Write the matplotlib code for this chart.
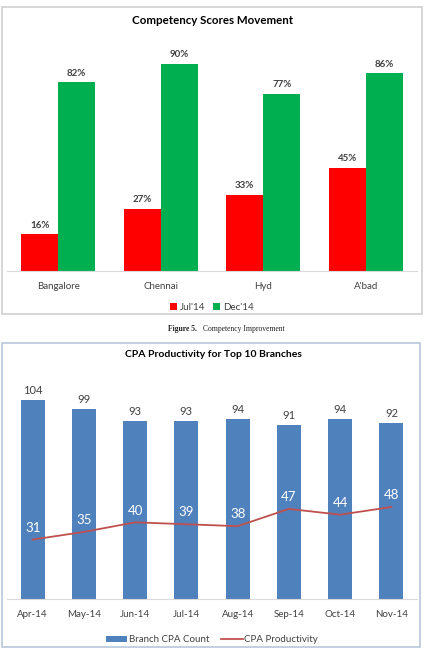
import matplotlib
matplotlib.use("Agg")
import matplotlib.pyplot as plt
from matplotlib.patches import Rectangle
import numpy as np

plt.rcParams["font.family"] = ["Lato", "DejaVu Sans"]

# top chart data
cities = ["Bangalore", "Chennai", "Hyd", "A'bad"]
jul14 = [16, 27, 33, 45]
dec14 = [82, 90, 77, 86]

# bottom chart data
months = ["Apr-14", "May-14", "Jun-14", "Jul-14", "Aug-14", "Sep-14", "Oct-14", "Nov-14"]
cpa_count = [104, 99, 93, 93, 94, 91, 94, 92]
cpa_prod = [31, 35, 40, 39, 38, 47, 44, 48]

W, H = 426, 650
fig = plt.figure(figsize=(W / 100, H / 100), dpi=100)
fig.patch.set_facecolor("white")


def px_axes(x0, y0, x1, y1):
    # pixel box (top-left origin) -> figure axes
    return fig.add_axes([x0 / W, 1 - y1 / H, (x1 - x0) / W, (y1 - y0) / H])


def px_box(x0, y0, x1, y1, color):
    fig.patches.append(Rectangle((x0 / W, 1 - y1 / H), (x1 - x0) / W, (y1 - y0) / H,
                                 transform=fig.transFigure, fill=False,
                                 edgecolor=color, linewidth=1.2))


def clean(ax):
    for s in ["top", "right", "left"]:
        ax.spines[s].set_visible(False)
    ax.spines["bottom"].set_color("#D9D9D9")
    ax.set_yticks([])
    ax.tick_params(axis="x", length=0, pad=8, colors="#404040")


# ---- chart 1 ----
px_box(2, 7, 422, 314, "#CFCFCF")
ax1 = px_axes(7, 41, 417, 271)
x = np.arange(len(cities))
w = 0.36
b1 = ax1.bar(x - w / 2, jul14, w, color="#FF0000", label="Jul'14")
b2 = ax1.bar(x + w / 2, dec14, w, color="#00B050", label="Dec'14")
for bars, vals in [(b1, jul14), (b2, dec14)]:
    for r, v in zip(bars, vals):
        ax1.text(r.get_x() + r.get_width() / 2, v + 2, f"{v}%", ha="center", va="bottom",
                 fontsize=7, fontweight="bold", color="#404040")
ax1.set_xlim(-0.5, 3.5)
ax1.set_ylim(0, 100)
ax1.set_xticks(x)
ax1.set_xticklabels(cities, fontsize=7)
clean(ax1)
ax1.legend(loc="upper center", bbox_to_anchor=(0.5, -0.1), ncol=2, frameon=False,
           fontsize=7, handlelength=0.7, handleheight=0.7, columnspacing=0.8,
           handletextpad=0.3, labelcolor="#404040")
fig.text(213 / W, 1 - 20 / H, "Competency Scores Movement", ha="center", va="center",
         fontsize=8.3, fontweight="bold", color="#000000")

fig.text(197 / W, 1 - 329 / H, "Figure 5.", ha="right", va="center", fontsize=5.5,
         family="Liberation Serif", fontweight="bold", color="#222222")
fig.text(203 / W, 1 - 329 / H, "Competency Improvement", ha="left", va="center",
         fontsize=5.5, family="Liberation Serif", color="#222222")

# ---- chart 2 ----
px_box(2, 343, 420, 647, "#B8C7D9")
ax2 = px_axes(7, 369, 417, 599)
x2 = np.arange(len(months))
bars = ax2.bar(x2, cpa_count, 0.47, color="#4F81BD", label="Branch CPA Count")
for r, v in zip(bars, cpa_count):
    ax2.text(r.get_x() + r.get_width() / 2, v + 2, str(v), ha="center", va="bottom",
             fontsize=8, color="#404040")
line, = ax2.plot(x2, cpa_prod, color="#C0504D", linewidth=1.3, label="CPA Productivity")
for xi, v in zip(x2, cpa_prod):
    ax2.text(xi, v + 3, str(v), ha="center", va="bottom", fontsize=9.5, color="white")
ax2.set_xlim(-0.5, 7.5)
ax2.set_ylim(0, 120)
ax2.set_xticks(x2)
ax2.set_xticklabels(months, fontsize=7)
clean(ax2)
ax2.legend([bars, line], ["Branch CPA Count", "CPA Productivity"],
           loc="upper center", bbox_to_anchor=(0.5, -0.12), ncol=2, frameon=False,
           fontsize=7, handlelength=2.2, handleheight=0.6, columnspacing=1.2,
           handletextpad=0.2, labelcolor="#404040")
fig.text(213 / W, 1 - 355 / H, "CPA Productivity for Top 10 Branches", ha="center",
         va="center", fontsize=7.5, fontweight="bold", color="#000000")

fig.savefig("out.png", dpi=100)
